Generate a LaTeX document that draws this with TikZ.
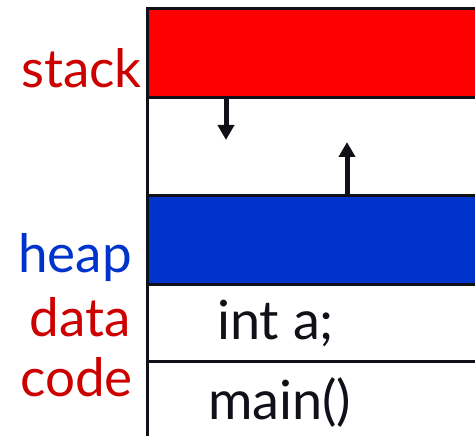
\documentclass[tikz,border=0pt]{standalone}
\usepackage{fontspec}
\setmainfont{Lato}
\usetikzlibrary{arrows.meta}
\definecolor{boxred}{HTML}{FF0000}
\definecolor{boxblue}{HTML}{0033CC}
\definecolor{labred}{HTML}{CC0000}
\definecolor{labblue}{HTML}{0033CC}
\definecolor{ink}{HTML}{101018}
\begin{document}
\begin{tikzpicture}[x=1pt,y=1pt,
  seg/.style={draw=ink,line width=3pt,rectangle,minimum width=360pt,anchor=north west,inner sep=0pt,outer sep=0pt},
  lab/.style={anchor=base east,inner sep=0pt,font=\fontsize{53}{55}\selectfont},
  body/.style={anchor=base west,inner sep=0pt,text=ink,font=\fontsize{54}{56}\selectfont},
  arr/.style={draw=ink,line width=5pt,-{Triangle[width=16pt,length=15pt]}}]
\clip (0,0) rectangle (475,436);
\node[seg,fill=boxred,minimum height=89pt] (stackbox) at (147.5,427.5) {};
\node[seg,fill=white,minimum height=98.5pt] (freebox) at (stackbox.south west) {};
\node[seg,fill=boxblue,minimum height=89pt] (heapbox) at (freebox.south west) {};
\node[seg,fill=white,minimum height=76.5pt] (databox) at (heapbox.south west) {};
\node[seg,fill=white,minimum height=90pt] (codebox) at (databox.south west) {};
\node[lab,text=labred] (stacklab) at (142,348) {stack};
\node[lab,text=labblue] (heaplab) at (132,163) {heap};
\node[lab,text=labred] (datalab) at (131,99) {data};
\node[lab,text=labred] (codelab) at (133,39) {code};
\node[body] (inta) at (217,96) {int a;};
\node[body] (mainf) at (208,16) {main()};
\coordinate (downend) at (226,296);
\coordinate (upend) at (347,294);
\draw[arr] (stackbox.south -| downend) -- (downend);
\draw[arr] (heapbox.north -| upend) -- (upend);
\end{tikzpicture}
\end{document}
